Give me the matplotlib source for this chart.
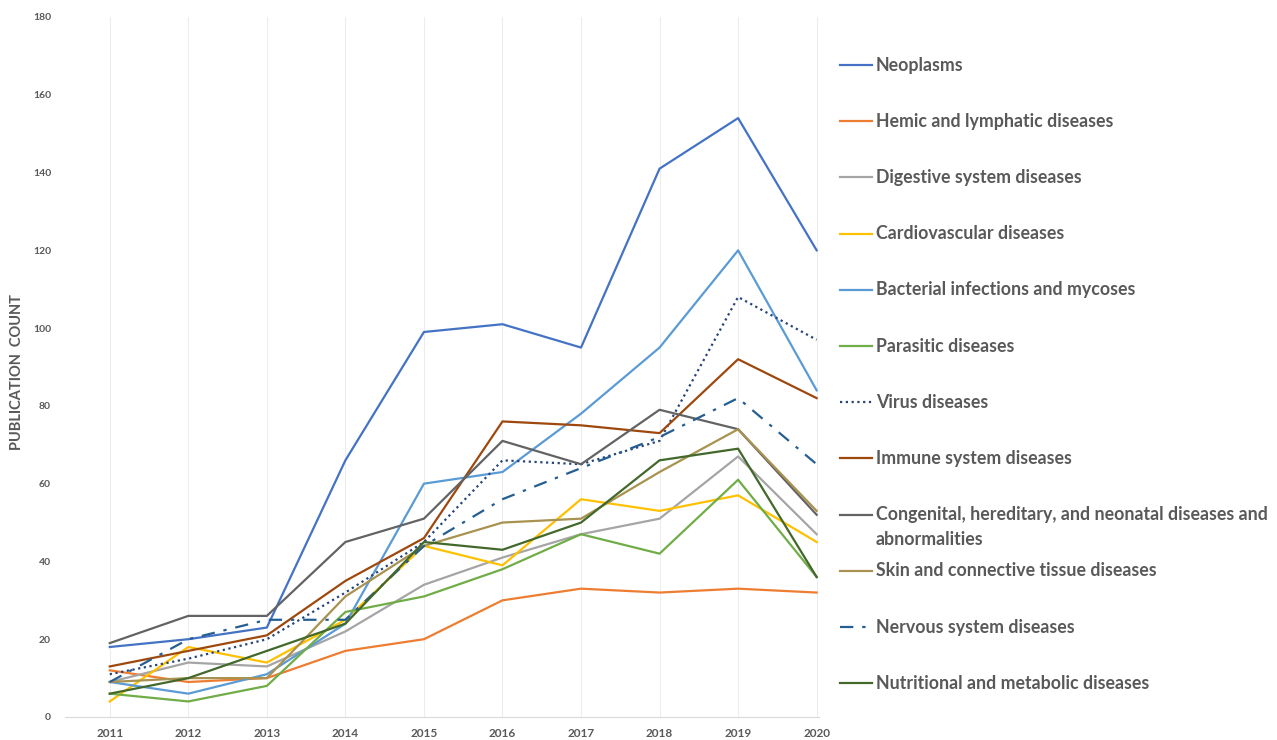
import matplotlib
matplotlib.use("Agg")
import matplotlib.pyplot as plt
from matplotlib.lines import Line2D

# --- data ---
years = [2011, 2012, 2013, 2014, 2015, 2016, 2017, 2018, 2019, 2020]

neoplasms = [18, 20, 23, 66, 99, 101, 95, 141, 154, 120]
hemic = [12, 9, 10, 17, 20, 30, 33, 32, 33, 32]
digestive = [9, 14, 13, 22, 34, 41, 47, 51, 67, 47]
cardio = [4, 18, 14, 25, 44, 39, 56, 53, 57, 45]
bacterial = [9, 6, 11, 24, 60, 63, 78, 95, 120, 84]
parasitic = [6, 4, 8, 27, 31, 38, 47, 42, 61, 36]
virus = [11, 15, 20, 32, 45, 66, 65, 71, 108, 97]
immune = [13, 17, 21, 35, 46, 76, 75, 73, 92, 82]
congenital = [19, 26, 26, 45, 51, 71, 65, 79, 74, 52]
skin = [9, 10, 10, 31, 44, 50, 51, 63, 74, 53]
nervous = [9, 20, 25, 25, 44, 56, 64, 72, 82, 65]
nutritional = [6, 10, 17, 24, 45, 43, 50, 66, 69, 36]

labels = [
    "Neoplasms",
    "Hemic and lymphatic diseases",
    "Digestive system diseases",
    "Cardiovascular diseases",
    "Bacterial infections and mycoses",
    "Parasitic diseases",
    "Virus diseases",
    "Immune system diseases",
    "Congenital, hereditary, and neonatal diseases and\nabnormalities",
    "Skin and connective tissue diseases",
    "Nervous system diseases",
    "Nutritional and metabolic diseases",
]
series = [neoplasms, hemic, digestive, cardio, bacterial, parasitic,
          virus, immune, congenital, skin, nervous, nutritional]

colors = ["#4472C4", "#ED7D31", "#A5A5A5", "#FFC000", "#5B9BD5", "#70AD47",
          "#264478", "#9E480E", "#636363", "#A8924F", "#255E91", "#43682B"]
styles = ["-", "-", "-", "-", "-", "-",
          (0, (1, 1.6)), "-", "-", "-", (0, (6, 4, 1.5, 4)), "-"]

W, H = 1277, 740
FONT = "Lato"
TXT = "#595959"

fig = plt.figure(figsize=(W / 100, H / 100), dpi=100)
ax = fig.add_axes([65 / W, 23 / H, (819 - 65) / W, (717 - 17) / H])

for vals, lab, c, ls in zip(series, labels, colors, styles):
    ax.plot(years, vals, color=c, linestyle=ls, linewidth=1.6, label=lab)

ax.set_xlim(2010.43, 2020.03)
ax.set_ylim(0, 180)
ax.set_yticks(range(0, 181, 20))
ax.set_xticks(years)
ax.xaxis.grid(True, color="#EDEDED", linewidth=0.8)
ax.set_axisbelow(True)
for s in ["top", "right", "left"]:
    ax.spines[s].set_visible(False)
ax.spines["bottom"].set_color("#D9D9D9")
ax.tick_params(length=0)
for t in ax.get_yticklabels():
    t.set_fontfamily(FONT)
    t.set_fontsize(7.5)
    t.set_fontweight("bold")
    t.set_color(TXT)
for t in ax.get_xticklabels():
    t.set_fontfamily(FONT)
    t.set_fontsize(8.5)
    t.set_fontweight("bold")
    t.set_color(TXT)
ax.tick_params(axis="y", pad=10)
ax.tick_params(axis="x", pad=8)
fig.text(17 / W, 1 - 372 / H, "PUBLICATION  COUNT", rotation=90, ha="center",
         va="center", fontfamily=FONT, fontsize=10.5, fontweight="bold", color=TXT)

# legend drawn like the Excel one: tall, evenly spaced rows
for i, (lab, c, ls) in enumerate(zip(labels, colors, styles)):
    y = 65 + 56.2 * i
    fig.add_artist(Line2D([840 / W, 872 / W], [1 - y / H, 1 - y / H],
                          transform=fig.transFigure, color=c, linestyle=ls,
                          linewidth=1.6))
    for k, part in enumerate(lab.split("\n")):
        fig.text(876 / W, 1 - (y + 25 * k) / H, part, ha="left", va="center",
                 fontfamily=FONT, fontsize=12.8, fontweight="bold", color=TXT)

fig.savefig("out.png", dpi=100)
